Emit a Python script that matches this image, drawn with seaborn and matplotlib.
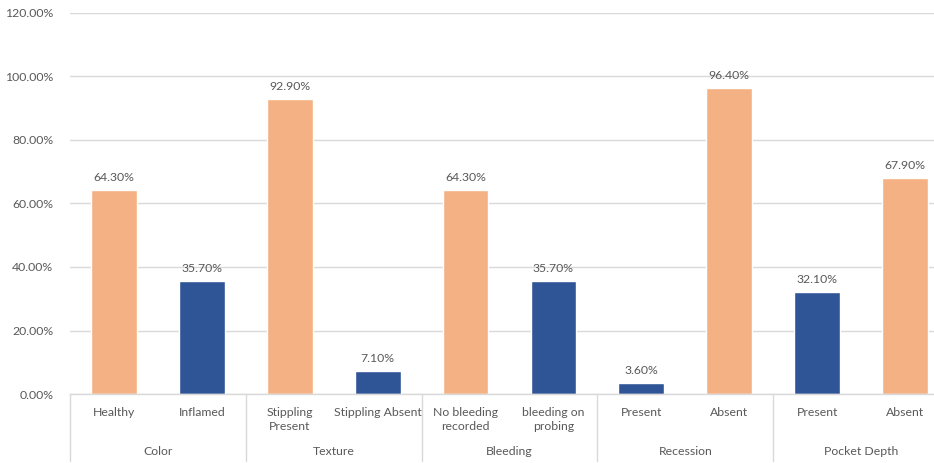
import matplotlib
matplotlib.use("Agg")
import matplotlib.pyplot as plt
import matplotlib.transforms as mtransforms
import seaborn as sns
import pandas as pd

categories = ["Healthy", "Inflamed", "Stippling\nPresent", "Stippling Absent",
              "No bleeding\nrecorded", "bleeding on\nprobing", "Present", "Absent",
              "Present", "Absent"]
groups = ["Color", "Texture", "Bleeding", "Recession", "Pocket Depth"]
values = [64.3, 35.7, 92.9, 7.1, 64.3, 35.7, 3.6, 96.4, 32.1, 67.9]
bar_kind = ["o", "b", "o", "b", "o", "b", "b", "o", "b", "o"]
yticks = [0, 20, 40, 60, 80, 100, 120]

ORANGE = "#F4B183"
BLUE = "#2F5597"
TXT = "#595959"

sns.set_theme(style="white")
plt.rcParams["font.family"] = ["Lato", "DejaVu Sans"]

df = pd.DataFrame({"pos": [str(i) for i in range(len(values))], "value": values})
palette = {str(i): (ORANGE if k == "o" else BLUE) for i, k in enumerate(bar_kind)}

fig = plt.figure(figsize=(9.34, 4.63), dpi=100)
ax = fig.add_axes([0.075, 0.149, 0.941, 0.823])
sns.barplot(data=df, x="pos", y="value", hue="pos", palette=palette, legend=False,
            width=0.52, ax=ax, saturation=1)

ax.set_ylim(0, 120)
ax.set_xlim(-0.5, len(values) - 0.5)
ax.set_yticks(yticks)
ax.set_yticklabels([f"{t:.2f}%" for t in yticks], color=TXT, fontsize=8.8)
ax.tick_params(axis="y", length=0, pad=12)
ax.yaxis.grid(True, color="#D9D9D9", linewidth=1)
ax.set_axisbelow(True)
ax.set_xticks([])
ax.set_xlabel("")
ax.set_ylabel("")
for s in ["left", "right", "top"]:
    ax.spines[s].set_visible(False)
ax.spines["bottom"].set_color("#D9D9D9")
ax.spines["bottom"].set_linewidth(1)

for i, v in enumerate(values):
    ax.text(i, v + 2.2, f"{v:.2f}%", ha="center", va="bottom", fontsize=8.8, color=TXT)

trans = mtransforms.blended_transform_factory(ax.transData, ax.transAxes)
for i, c in enumerate(categories):
    ax.text(i, -0.033, c, ha="center", va="top", fontsize=8.8, color=TXT,
            transform=trans, linespacing=1.4)

for g_i, g in enumerate(groups):
    ax.text(2 * g_i + 0.5, -0.15, g, ha="center", va="center", fontsize=8.8,
            color=TXT, transform=trans)

for xb in [-0.5, 1.5, 3.5, 5.5, 7.5, 9.5]:
    ax.plot([xb, xb], [0, -0.175], transform=trans, color="#D9D9D9", linewidth=1,
            clip_on=False)

fig.savefig("out.png", dpi=100)
